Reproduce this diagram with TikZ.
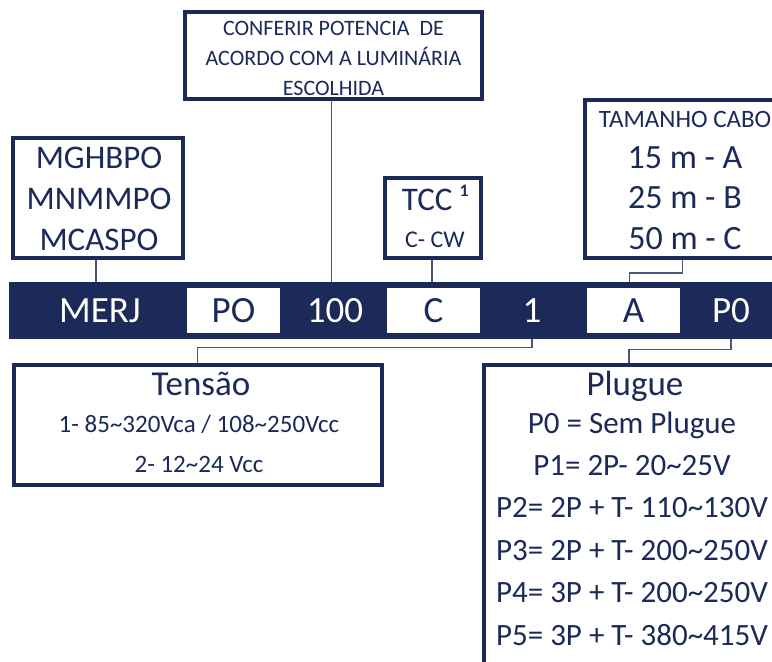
\documentclass[tikz,border=0pt]{standalone}
\usepackage{fontspec}
\setmainfont{Carlito}
\usetikzlibrary{calc}
\definecolor{merjNavy}{HTML}{1B2A58}
\definecolor{merjLink}{HTML}{4A5876}
\newcommand{\fsz}[2]{\fontsize{#1}{#2}\selectfont}
\newcommand{\tld}{\textasciitilde}

\begin{document}
\begin{tikzpicture}[x=1pt, y=-1pt,
  box/.style={draw=merjNavy, line width=4pt, fill=white, inner sep=0pt},
  txt/.style={text=merjNavy, align=center, anchor=base, inner sep=0pt},
  code/.style={inner sep=0pt, text height=23pt, text depth=0pt, font=\fsz{37}{40}},
  whitecode/.style={code, fill=white, text=merjNavy, minimum width=93, minimum height=45},
  link/.style={draw=merjLink, line width=1.4pt}]
  \useasboundingbox (0,0) rectangle (772,662);
  \clip (0,0) rectangle (772,662);
  % Code bar
  \node[fill=merjNavy, minimum width=771, minimum height=57, inner sep=0pt] (bar) at (394.5,310.5) {};
  \node[code, text=white] (merj) at (100,310.5) {MERJ};
  \node[whitecode] (codePO) at (233.5,310.5) {PO};
  \node[code, text=white] (num100) at (335,310.5) {100};
  \node[whitecode] (codeC) at (433.5,310.5) {C};
  \node[code, text=white] (one) at (532,310.5) {1};
  \node[whitecode] (codeA) at (633.5,310.5) {A};
  \node[code, text=white] (p0) at (731,310.5) {P0};
  % Upper boxes (base = last line)
  \node[box, minimum width=297, minimum height=87] (conferir) at (333.5,55.5) {};
  \node[txt, font=\fsz{22}{30}] (conferirText) at (333.5,95)
    {CONFERIR POTENCIA\ \ DE\\ACORDO COM A LUMINÁRIA\\ESCOLHIDA};
  \node[box, minimum width=170, minimum height=120] (models) at (98,198) {};
  \node[txt, font=\fsz{33}{41}] (modelsText) at (99,250) {MGHBPO\\MNMMPO\\MCASPO};
  \node[box, minimum width=96, minimum height=80] (tcc) at (433,218) {};
  \node[txt, font=\fsz{33}{40}] (tccTitle) at (435,210) {TCC ¹};
  \node[txt, font=\fsz{24}{30}] (tccText) at (435,247) {C- CW};
  \node[box, minimum width=205, minimum height=158] (tamanho) at (687.5,179) {};
  \node[txt, font=\fsz{25}{30}] (tamanhoTitle) at (685,127) {TAMANHO CABO};
  \node[txt, font=\fsz{34}{40.5}] (tamanhoText) at (685,249) {15 m - A\\25 m - B\\50 m - C};
  % Lower boxes
  \node[box, minimum width=368.5, minimum height=120] (tensao) at (197.75,425) {};
  \node[txt, font=\fsz{35}{40}] (tensaoTitle) at (201,395) {Tensão};
  \node[txt, font=\fsz{25}{40}] (tensaoText) at (199,472)
    {1- 85\tld320Vca / 108\tld250Vcc\\2- 12\tld24 Vcc};
  \node[box, minimum width=316, minimum height=335] (plugue) at (642,532.5) {};
  \node[txt, font=\fsz{35}{40}] (plugueTitle) at (635,395) {Plugue};
  \node[txt, font=\fsz{31}{42.4}] (plugueText) at (632,645)
    {P0 = Sem Plugue\\P1= 2P- 20\tld25V\\P2= 2P + T- 110\tld130V\\P3= 2P + T- 200\tld250V\\P4= 3P + T- 200\tld250V\\P5= 3P + T- 380\tld415V};
  % Connectors
  \draw[link] ([xshift=-2]models.south) -- ([xshift=-2]models.south |- bar.north);
  \draw[link] ([xshift=-2]conferir.south) -- ([xshift=-2]conferir.south |- bar.north);
  \draw[link] ([xshift=-1]tcc.south) -- ([xshift=-1]tcc.south |- bar.north);
  \draw[link] ([xshift=-5]tamanho.south) -- ++(0,13) -| ([xshift=-4]codeA.north |- bar.north);
  \draw[link] (one |- bar.south) -- ++(0,8) -| (tensao.north);
  \draw[link] (p0 |- bar.south) -- ++(0,10) -| ([xshift=-13]plugue.north);
\end{tikzpicture}
\end{document}
